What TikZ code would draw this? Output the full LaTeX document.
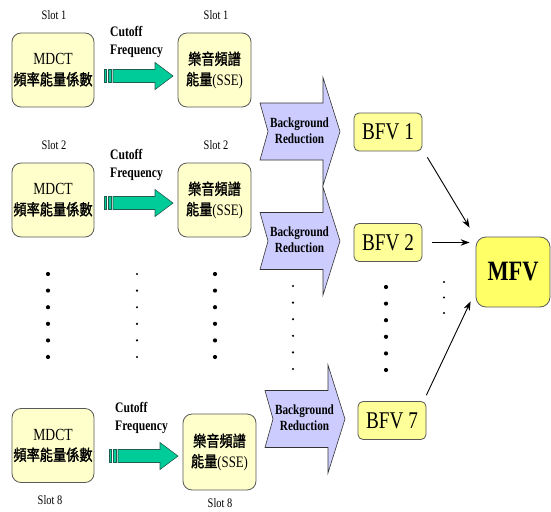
\documentclass[tikz,border=0pt]{standalone}
\usepackage{fontspec}
\setmainfont{Liberation Serif}[FakeStretch=0.8]
\newfontfamily\cjk{Noto Sans CJK TC}[FakeStretch=0.85,FakeBold=1.5]
\usetikzlibrary{arrows.meta,calc}

\definecolor{cream}{HTML}{FFFFCC}
\definecolor{bfvfill}{HTML}{FFFF99}
\definecolor{mfvfill}{HTML}{FFFF66}
\definecolor{chevfill}{HTML}{CCCCFF}
\definecolor{greenfill}{HTML}{00CC99}
\definecolor{greenline}{HTML}{1F5F4F}

\tikzset{
  slotbox/.style={draw=black!65, line width=0.8pt, fill=cream, rounded corners=9pt,
    minimum width=#1, minimum height=74pt, align=center, inner sep=0pt},
  slotbox/.default=82pt,
  bfvbox/.style={draw=black!65, line width=0.8pt, fill=bfvfill, rounded corners=5pt,
    minimum width=68pt, minimum height=38pt, inner sep=0pt,
    font=\fontsize{24}{26}\selectfont},
  mfvbox/.style={draw=black!65, line width=0.8pt, fill=mfvfill, rounded corners=10pt,
    minimum width=74pt, minimum height=70pt, inner sep=0pt,
    font=\fontsize{28}{30}\selectfont\bfseries},
  slotlabel/.style={font=\fontsize{13}{15}\selectfont, inner sep=0pt},
  cutlabel/.style={font=\fontsize{14.5}{18}\selectfont\bfseries, align=left,
    anchor=north west, inner sep=0pt},
  chevshape/.style={draw=black!80, line width=0.6pt, fill=chevfill},
  chevtext/.style={font=\fontsize{14}{17}\selectfont\bfseries, align=center, inner sep=0pt},
  greenshape/.style={draw=greenline, line width=0.6pt, fill=greenfill},
  conn/.style={-{Stealth[length=9pt,width=6.5pt]}, line width=0.9pt},
  bigdot/.style={fill=black},
}

% two-line box texts
\newcommand\mdcttext{{\fontsize{17}{20}\selectfont MDCT}\\[6pt]{\cjk\fontsize{15.5}{18}\selectfont 頻率能量係數}}
\newcommand\ssetext{{\cjk\fontsize{15.5}{18}\selectfont 樂音頻譜}\\[5pt]{\cjk\fontsize{15.5}{18}\selectfont 能量}{\fontsize{16}{18}\selectfont(SSE)}}

% striped green arrow: #1 = left x, #2 = centre y
\newcommand\cutarrow[2]{%
  \begin{scope}[shift={(#1,#2)}]
    \filldraw[greenshape] (0,-6.5) rectangle (2.5,6.5);
    \filldraw[greenshape] (4,-6.5) rectangle (7.5,6.5);
    \filldraw[greenshape] (9,-6.5) -- (51,-6.5) -- (51,-13.5) -- (69,0)
      -- (51,13.5) -- (51,6.5) -- (9,6.5) -- cycle;
  \end{scope}}

% notched "Background Reduction" arrow: #1 = left x, #2 = centre y, #3 = node name
\newcommand\bgarrow[3]{%
  \begin{scope}[shift={(#1,#2)}]
    \filldraw[chevshape] (0,-28.5) -- (63,-28.5) -- (63,-54) -- (80,0)
      -- (63,54) -- (63,28.5) -- (0,28.5) -- (8,0) -- cycle;
    \node[chevtext] (#3) at (39.5,-1) {Background\\[-1pt]Reduction};
  \end{scope}}

\begin{document}
\begin{tikzpicture}[x=1pt,y=-1pt]
\useasboundingbox (0,0) rectangle (551,511);

% ---- slot 1 ----
\node[slotlabel] (s1a) at (54,15) {Slot 1};
\node[slotlabel] (s1b) at (216,15) {Slot 1};
\node[slotbox] (mdct1) at (53,70) {\mdcttext};
\node[slotbox=73pt] (sse1) at (214.5,70) {\ssetext};
\node[cutlabel] (cut1) at (110,26) {Cutoff\\Frequency};
\cutarrow{104}{76}

% ---- slot 2 ----
\node[slotlabel] (s2a) at (54,145) {Slot 2};
\node[slotlabel] (s2b) at (216,145) {Slot 2};
\node[slotbox] (mdct2) at (53,200) {\mdcttext};
\node[slotbox=73pt] (sse2) at (214.5,200) {\ssetext};
\node[cutlabel] (cut2) at (110,149) {Cutoff\\Frequency};
\cutarrow{104}{203}

% ---- slot 8 ----
\node[slotbox] (mdct8) at (53,445.5) {\mdcttext};
\node[slotbox=73pt, minimum height=76pt] (sse8) at (219.5,452) {\ssetext};
\node[slotlabel] (s8a) at (50,500) {Slot 8};
\node[slotlabel] (s8b) at (220,503) {Slot 8};
\node[cutlabel] (cut8) at (115,402) {Cutoff\\Frequency};
\cutarrow{109}{456}

% ---- vertical ellipsis between slots ----
\foreach \i in {0,...,5} {
  \fill[bigdot] (48,274+16.6*\i) circle (2.1);
  \fill[bigdot] (137,274+16.6*\i) circle (1.2);
  \fill[bigdot] (215,274+16.6*\i) circle (2.1);
  \fill[bigdot] (293,286+16.6*\i) circle (1.2);
  \fill[bigdot] (386,287+16.6*\i) circle (2.1);
}
\foreach \i in {0,1,2}
  \fill[bigdot] (444,282+15.5*\i) circle (1.2);

% ---- background reduction ----
\bgarrow{260}{131.5}{br1}
\bgarrow{260}{241}{br2}
\bgarrow{265}{419}{br7}

% ---- feature vectors ----
\node[bfvbox] (bfv1) at (388,132) {BFV 1};
\node[bfvbox] (bfv2) at (388,242.5) {BFV 2};
\node[bfvbox] (bfv7) at (392,420.5) {BFV 7};
\node[mfvbox] (mfv) at (513,272) {MFV};

\draw[conn] ($(bfv1.south east)+(5,6)$) -- ($(mfv.north west)+(-6,-9)$);
\draw[conn] ($(bfv2.east)+(10,0)$) -- ($(bfv2.east -| mfv.west)+(-6,0)$);
\draw[conn] ($(bfv7.north east)+(0,-6)$) -- ($(mfv.south west)+(-5,-6)$);
\end{tikzpicture}
\end{document}
